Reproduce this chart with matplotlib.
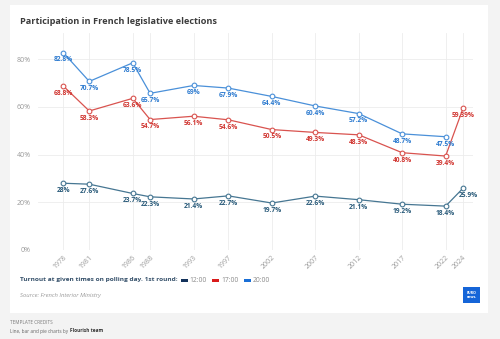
import matplotlib.pyplot as plt
from matplotlib.patches import Rectangle

years = [1978, 1981, 1986, 1988, 1993, 1997, 2002, 2007, 2012, 2017, 2022, 2024]
noon = [28, 27.6, 23.7, 22.3, 21.4, 22.7, 19.7, 22.6, 21.1, 19.2, 18.4, 25.9]
five_pm = [68.8, 58.3, 63.6, 54.7, 56.1, 54.6, 50.5, 49.3, 48.3, 40.8, 39.4, 59.39]
eight_pm = [82.8, 70.7, 78.5, 65.7, 69, 67.9, 64.4, 60.4, 57.2, 48.7, 47.5]
noon_labels = ["28%", "27.6%", "23.7%", "22.3%", "21.4%", "22.7%", "19.7%", "22.6%",
               "21.1%", "19.2%", "18.4%", "25.9%"]
five_labels = ["68.8%", "58.3%", "63.6%", "54.7%", "56.1%", "54.6%", "50.5%", "49.3%",
               "48.3%", "40.8%", "39.4%", "59.39%"]
eight_labels = ["82.8%", "70.7%", "78.5%", "65.7%", "69%", "67.9%", "64.4%", "60.4%",
                "57.2%", "48.7%", "47.5%"]
legend_names = ["12:00", "17:00", "20:00"]
legend_colors = ["#13325b", "#d91b1b", "#1a6fd6"]
y_ticks = [0, 20, 40, 60, 80]

W, H = 500, 339
fig = plt.figure(figsize=(5, 3.39), dpi=100, facecolor="#f3f3f3")
plt.rcParams['font.family'] = ['Open Sans', 'DejaVu Sans']


def fx(px):
    return px / W


def fy(py):
    return 1 - py / H


# white card behind everything
fig.patches.append(Rectangle((fx(10), fy(313)), fx(478), 308 / H, transform=fig.transFigure,
                             facecolor="white", edgecolor="none", zorder=-5))

ax = fig.add_axes([fx(38), fy(250), fx(435), (250 - 33) / H])
ax.set_facecolor("none")
ax.set_xlim(1975.1, 2025.15)
ax.set_ylim(0, 91)

series = [
    (noon, noon_labels, "#467692", "#2a5b7a"),
    (five_pm, five_labels, "#d9534f", "#d0332e"),
    (eight_pm, eight_labels, "#4a90d9", "#2d7bd0"),
]
for vals, labs, lc, tc in series:
    xs = years[:len(vals)]
    ax.plot(xs, vals, color=lc, lw=0.9, marker="o", ms=3.4, mfc="white",
            mec=lc, mew=0.8, zorder=3)
    for x, v, t in zip(xs, vals, labs):
        dx = 4 if t == "25.9%" else 0
        ax.annotate(t, (x, v), xytext=(dx, -2.8), textcoords="offset points",
                    ha="center", va="top", fontsize=4.8, fontweight="bold",
                    color=tc, zorder=4)

ax.set_xticks(years)
ax.set_xticklabels([str(y) for y in years], rotation=45, ha="right", va="top",
                   rotation_mode="anchor")
ax.set_yticks(y_ticks)
ax.set_yticklabels([f"{v}%" for v in y_ticks])
ax.tick_params(axis="both", length=0, labelsize=5, labelcolor="#9a9a9a")
ax.tick_params(axis="x", pad=3)
ax.tick_params(axis="y", pad=5)
ax.grid(True, color="#ececec", lw=0.6)
ax.set_axisbelow(True)
for s in ax.spines.values():
    s.set_visible(False)

# title
fig.text(fx(20), fy(21), "Participation in French legislative elections", fontsize=6.6,
         fontweight="bold", color="#3c3c3c", va="center")

# legend row, items placed after the heading text
renderer = fig.canvas.get_renderer()
head = fig.text(fx(20), fy(280), "Turnout at given times on polling day. 1st round:",
                fontsize=4.65, fontweight="bold", color="#35506a", va="center")
px = head.get_window_extent(renderer).x1 + 3
for name, col in zip(legend_names, legend_colors):
    fig.patches.append(Rectangle((fx(px), fy(281.5)), fx(7), 2.5 / H, transform=fig.transFigure,
                                 facecolor=col, edgecolor="none"))
    t = fig.text(fx(px + 8.5), fy(280), name, fontsize=4.9, color="#8a8a8a", va="center")
    px = t.get_window_extent(renderer).x1 + 6

fig.text(fx(20), fy(296), "Source: French Interior Ministry", fontsize=4.2, style="italic",
         color="#9a9a9a", va="center")

# logo
fig.patches.append(Rectangle((fx(463), fy(303)), fx(17), 16 / H, transform=fig.transFigure,
                             facecolor="#1565d8", edgecolor="none"))
fig.text(fx(471.5), fy(295), "EURO\nnews.", fontsize=2.6, fontweight="bold", color="white",
         ha="center", va="center", linespacing=0.9)

# credits
fig.text(fx(10), fy(323), "TEMPLATE CREDITS", fontsize=3.3, color="#777777", va="center")
cred = fig.text(fx(10), fy(331), "Line, bar and pie charts by", fontsize=3.4, color="#666666",
                va="center")
fig.text(fx(cred.get_window_extent(renderer).x1 + 1.5), fy(331), "Flourish team", fontsize=3.4,
         color="#333333", fontweight="bold", va="center")

fig.savefig("out.png", dpi=100, facecolor=fig.get_facecolor())
